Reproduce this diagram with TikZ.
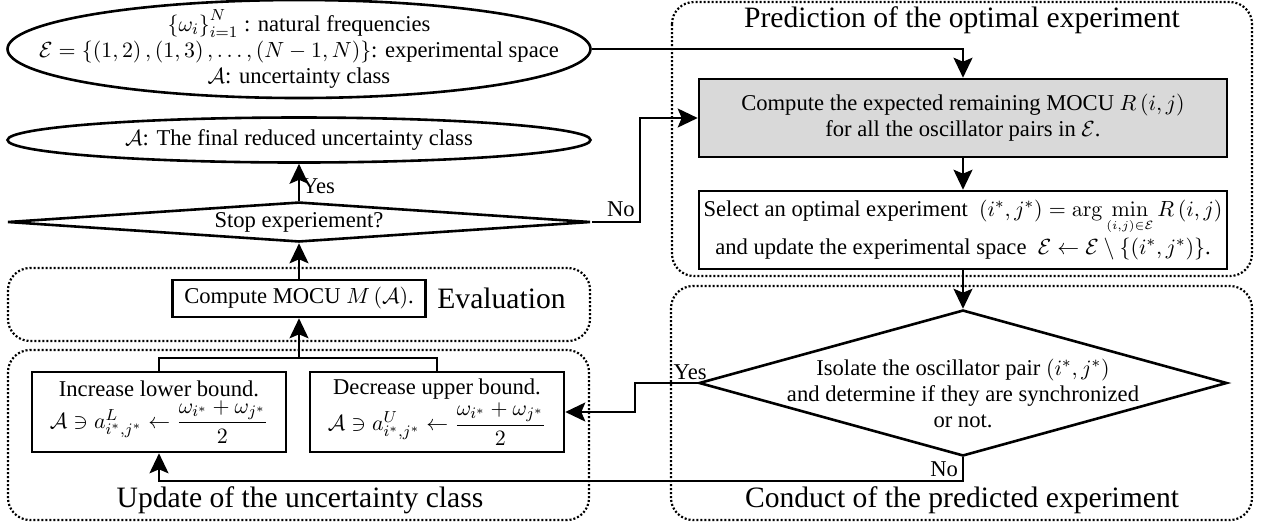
\documentclass[tikz,border=0pt]{standalone}
\usepackage{amsmath}
\usepackage[no-math]{fontspec}
\setmainfont{Liberation Serif}
\usetikzlibrary{shapes.geometric,arrows.meta}

\tikzset{
  block/.style={draw, line width=1.3pt, rectangle, inner sep=0pt, align=center},
  decision/.style={draw, line width=1.3pt, diamond, inner sep=0pt},
  terminal/.style={draw, line width=1.3pt, ellipse, inner sep=0pt, align=center},
  region/.style={line width=1.1pt, dash pattern=on 1pt off 1pt, rounded corners=11pt},
  title/.style={font=\fontsize{14.8}{17}\selectfont, inner sep=0pt},
  line/.style={line width=1.1pt}
}

\begin{document}
\begin{tikzpicture}[x=0.5pt, y=-0.5pt, >={Stealth[length=10pt,width=9.5pt,inset=2pt]},
  font=\fontsize{11.3}{13}\selectfont]
\useasboundingbox (0,0) rectangle (1265,527);

\draw[region] (672,2) rectangle (1252,276);
\draw[region] (671,286) rectangle (1252,520);
\draw[region] (8,268) rectangle (590,341);
\draw[region] (8,350) rectangle (589,520);

\node[title] (predtitle) at (962,20) {Prediction of the optimal experiment};
\node[title] (condtitle) at (962,500) {Conduct of the predicted experiment};
\node[title, anchor=west] (evaltitle) at (437,298) {Evaluation};
\node[title] (updtitle) at (300,500) {Update of the uncertainty class};

\node[terminal, minimum width=291.5pt, minimum height=49pt] (input) at (299,49) {};
\node[align=center] (inputtext) at (input.center) {$\left\{\omega_i\right\}_{i=1}^{N}$ : natural frequencies\\
  $\mathcal{E}=\left\{\left(1,2\right),\left(1,3\right),\ldots,\left(N-1,N\right)\right\}$: experimental space\\
  $\mathcal{A}$: uncertainty class};
\node[terminal, minimum width=291.5pt, minimum height=22.5pt] (final) at (299,140) {$\mathcal{A}$: The final reduced uncertainty class};
\node[decision, shape aspect=14.6, minimum width=291.5pt, minimum height=20pt] (stop) at (299,222) {Stop experiement?};
\node[block, minimum width=126.5pt, minimum height=18.5pt] (mocu) at (299,298.5) {Compute MOCU $M\left(\mathcal{A}\right)$.};
\node[block, minimum width=127pt, minimum height=40pt] (inc) at (159,412) {Increase lower bound.\\[1pt]
  $\mathcal{A}\ni a^{L}_{i^*,j^*}\leftarrow\dfrac{\omega_{i^*}+\omega_{j^*}}{2}$};
\node[block, minimum width=127pt, minimum height=40pt] (dec) at (437,412) {Decrease upper bound.\\[1pt]
  $\mathcal{A}\ni a^{U}_{i^*,j^*}\leftarrow\dfrac{\omega_{i^*}+\omega_{j^*}}{2}$};
\coordinate (joint) at (299,358);

\node[block, fill=gray!30, minimum width=264pt, minimum height=39pt] (predict) at (963,118) {Compute the expected remaining MOCU $R\left(i,j\right)$\\
  for all the oscillator pairs in $\mathcal{E}$.};
\node[block, minimum width=264pt, minimum height=39pt] (select) at (963,230) {Select an optimal experiment~ $\left(i^*,j^*\right)=\arg\min\limits_{\smash{\scriptscriptstyle(i,j)\in\mathcal{E}}}R\left(i,j\right)$\\[2pt]
  and update the experimental space~ $\mathcal{E}\leftarrow\mathcal{E}\setminus\left\{\left(i^*,j^*\right)\right\}$.};
\node[decision, minimum width=264pt, minimum height=73pt] (iso) at (963,383) {};
\node[align=center] (isotext) at (963,393) {Isolate the oscillator pair $\left(i^*,j^*\right)$\\
  and determine if they are synchronized\\ or not.};

\draw[line, ->] (input.east) -| (predict.north);
\draw[line, ->] (predict) -- (select);
\draw[line, ->] (select) -- (iso);
\draw[line, ->] (iso.west) -- node[pos=0.12, above, inner sep=1pt] {Yes} ++(-63,0) |- (dec.east);
\draw[line, ->] (iso.south) -- node[left, inner sep=2pt] {No} ++(0,24) -| (inc.south);
\draw[line] (inc.north) |- (joint) -| (dec.north);
\draw[line, ->] (joint) -- (mocu.south);
\draw[line, ->] (mocu) -- (stop);
\draw[line, ->] (stop) -- node[pos=0.4, right, inner sep=1pt] {Yes} (final);
\draw[line, ->] (stop.east) -- node[pos=1, above left, inner sep=2pt] {No} ++(48,0) |- (predict.west);
\end{tikzpicture}
\end{document}
